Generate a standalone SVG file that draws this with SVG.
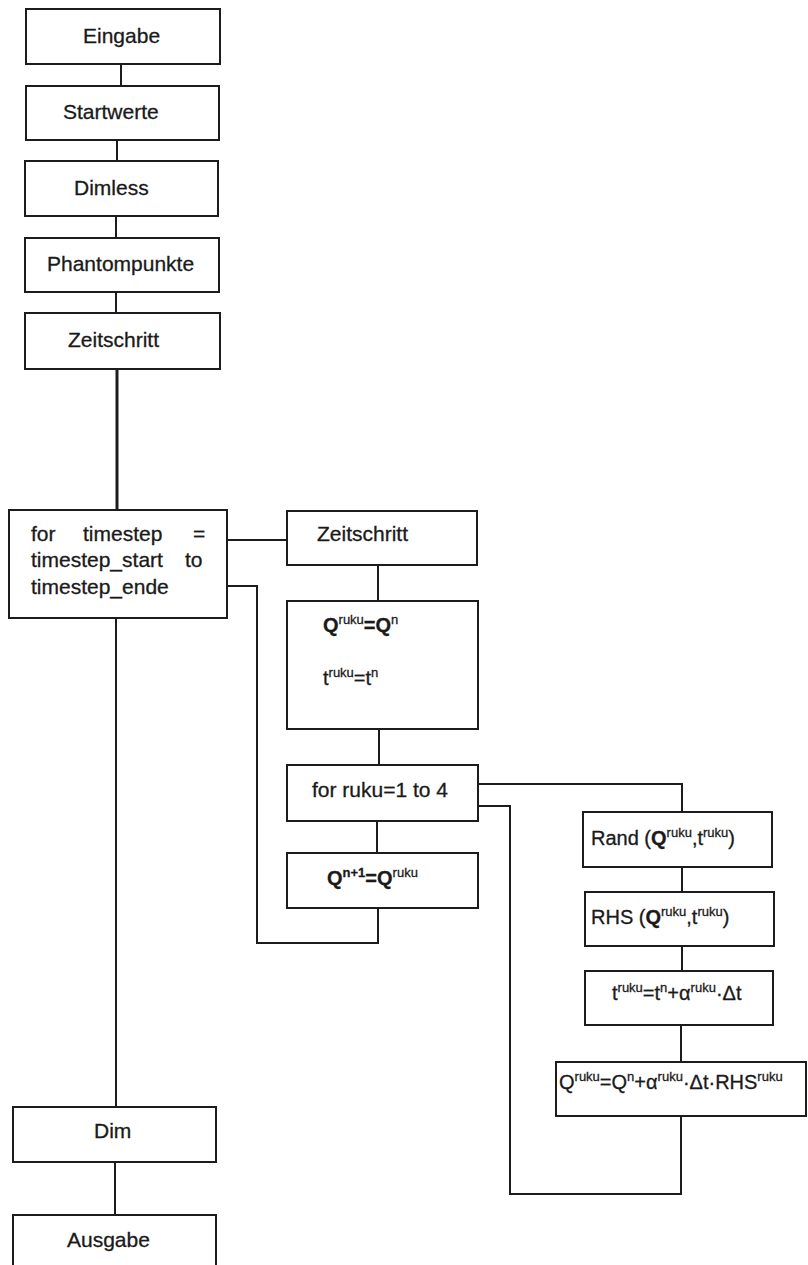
<svg xmlns="http://www.w3.org/2000/svg" width="808" height="1265" viewBox="0 0 808 1265">
  <style>
    .box { fill: #ffffff; stroke: #1c1c1c; stroke-width: 2; }
    .wire { fill: none; stroke: #1c1c1c; stroke-width: 2; }
    .thick { stroke-width: 3; }
    text { font-family: "Liberation Sans", Arial, sans-serif; font-size: 21px; fill: #1a1a1a; stroke: #1a1a1a; stroke-width: 0.3; }
    .f { font-size: 20px; }
    .sup { font-size: 13px; font-weight: normal; }
    .b { font-weight: bold; }
  </style>
  <rect x="0" y="0" width="808" height="1265" fill="#ffffff"/>

  <!-- connectors -->
  <g id="connectors">
    <line class="wire" x1="121" y1="64" x2="121" y2="86"/>
    <line class="wire" x1="117" y1="140" x2="117" y2="161"/>
    <line class="wire" x1="116" y1="216" x2="116" y2="238"/>
    <line class="wire" x1="116" y1="292" x2="116" y2="313"/>
    <line class="wire thick" x1="117" y1="369" x2="117" y2="510"/>
    <line class="wire" x1="116" y1="618" x2="116" y2="1107"/>
    <line class="wire" x1="115" y1="1162" x2="115" y2="1215"/>
    <line class="wire" x1="227" y1="540" x2="287" y2="540"/>
    <polyline class="wire" points="227,586 257,586 257,943 378,943 378,908"/>
    <line class="wire" x1="378" y1="565" x2="378" y2="601"/>
    <line class="wire" x1="379" y1="729" x2="379" y2="765"/>
    <line class="wire" x1="377" y1="821" x2="377" y2="853"/>
    <polyline class="wire" points="478,784 682,784 682,812"/>
    <polyline class="wire" points="478,806 510,806 510,1194 681,1194 681,1116"/>
    <line class="wire" x1="682" y1="867" x2="682" y2="892"/>
    <line class="wire" x1="682" y1="946" x2="682" y2="971"/>
    <line class="wire" x1="681" y1="1025" x2="681" y2="1062"/>
  </g>

  <!-- main sequence -->
  <g id="eingabe">
    <rect class="box" x="26" y="9" width="194" height="55"/>
    <text x="83" y="43">Eingabe</text>
  </g>
  <g id="startwerte">
    <rect class="box" x="26" y="86" width="193" height="54"/>
    <text x="63" y="119">Startwerte</text>
  </g>
  <g id="dimless">
    <rect class="box" x="25" y="161" width="193" height="55"/>
    <text x="74" y="195">Dimless</text>
  </g>
  <g id="phantompunkte">
    <rect class="box" x="25" y="238" width="194" height="54"/>
    <text x="47" y="271">Phantompunkte</text>
  </g>
  <g id="zeitschritt-1">
    <rect class="box" x="25" y="313" width="195" height="56"/>
    <text x="68" y="347">Zeitschritt</text>
  </g>
  <g id="for-timestep">
    <rect class="box" x="9" y="510" width="218" height="108"/>
    <text x="31" y="541">for</text>
    <text x="83" y="541">timestep</text>
    <text x="193" y="541">=</text>
    <text x="31" y="567">timestep_start</text>
    <text x="185" y="567">to</text>
    <text x="31" y="594">timestep_ende</text>
  </g>
  <g id="dim">
    <rect class="box" x="13" y="1107" width="203" height="55"/>
    <text x="94" y="1138">Dim</text>
  </g>
  <g id="ausgabe">
    <rect class="box" x="13" y="1215" width="203" height="60"/>
    <text x="67" y="1247">Ausgabe</text>
  </g>

  <!-- time step loop -->
  <g id="zeitschritt-2">
    <rect class="box" x="287" y="511" width="190" height="54"/>
    <text x="317" y="541">Zeitschritt</text>
  </g>
  <g id="init-ruku">
    <rect class="box" x="287" y="601" width="191" height="128"/>
    <text class="f" x="323" y="632"><tspan class="b">Q</tspan><tspan class="sup" dy="-8">ruku</tspan><tspan class="b" dy="8">=Q</tspan><tspan class="sup" dy="-8">n</tspan></text>
    <text class="f" x="323" y="685">t<tspan class="sup" dy="-8">ruku</tspan><tspan dy="8">=t</tspan><tspan class="sup" dy="-8">n</tspan></text>
  </g>
  <g id="for-ruku">
    <rect class="box" x="287" y="765" width="191" height="56"/>
    <text x="312" y="797">for ruku=1 to 4</text>
  </g>
  <g id="update-q">
    <rect class="box" x="287" y="853" width="191" height="55"/>
    <text class="f b" x="327" y="885">Q<tspan class="sup b" dy="-8">n+1</tspan><tspan dy="8">=Q</tspan><tspan class="sup" dy="-8">ruku</tspan></text>
  </g>

  <!-- Runge-Kutta stage -->
  <g id="rand">
    <rect class="box" x="583" y="812" width="189" height="55"/>
    <text class="f" x="591" y="845">Rand (<tspan class="b">Q</tspan><tspan class="sup" dy="-8">ruku</tspan><tspan dy="8">,t</tspan><tspan class="sup" dy="-8">ruku</tspan><tspan dy="8">)</tspan></text>
  </g>
  <g id="rhs">
    <rect class="box" x="585" y="892" width="189" height="54"/>
    <text class="f" x="591" y="924">RHS (<tspan class="b">Q</tspan><tspan class="sup" dy="-8">ruku</tspan><tspan dy="8">,t</tspan><tspan class="sup" dy="-8">ruku</tspan><tspan dy="8">)</tspan></text>
  </g>
  <g id="t-stage">
    <rect class="box" x="585" y="971" width="188" height="54"/>
    <text class="f" x="612" y="1000">t<tspan class="sup" dy="-8">ruku</tspan><tspan dy="8">=t</tspan><tspan class="sup" dy="-8">n</tspan><tspan dy="8">+α</tspan><tspan class="sup" dy="-8">ruku</tspan><tspan dy="8">·Δt</tspan></text>
  </g>
  <g id="q-stage">
    <rect class="box" x="556" y="1062" width="250" height="54"/>
    <text class="f" x="559" y="1089">Q<tspan class="sup" dy="-8">ruku</tspan><tspan dy="8">=Q</tspan><tspan class="sup" dy="-8">n</tspan><tspan dy="8">+α</tspan><tspan class="sup" dy="-8">ruku</tspan><tspan dy="8">·Δt·RHS</tspan><tspan class="sup" dy="-8">ruku</tspan></text>
  </g>
</svg>
